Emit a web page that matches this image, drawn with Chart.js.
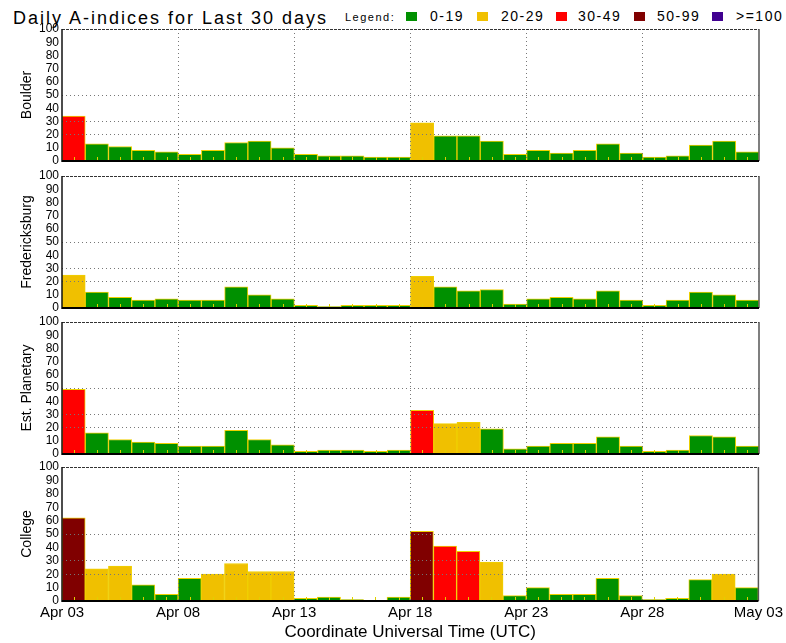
<!DOCTYPE html>
<html>
<head>
<meta charset="utf-8">
<script src="https://cdn.jsdelivr.net/npm/chart.js@4.4.0/dist/chart.umd.min.js"></script>
<style>
html,body{margin:0;padding:0;background:#fff;}
body{width:786px;height:643px;position:relative;overflow:hidden;font-family:"Liberation Sans",Arial,sans-serif;color:#000;}
.panel{position:absolute;left:0;width:786px;}
#title{position:absolute;left:13px;top:9px;font-size:18px;line-height:18px;letter-spacing:2px;white-space:nowrap;}
#legendHead{position:absolute;left:345px;top:12px;font-size:11px;line-height:11px;letter-spacing:1.5px;white-space:nowrap;}
.lbox{position:absolute;top:12px;width:11px;height:9px;}
.ltxt{position:absolute;top:9px;font-size:14px;line-height:14px;letter-spacing:1.5px;white-space:nowrap;}
</style>
</head>
<body>
<div id="title">Daily A-indices for Last 30 days</div>
<div id="legendHead">Legend:</div>
<div id="legendItems"></div>
<div class="panel" id="p0"><canvas id="c0"></canvas></div>
<div class="panel" id="p1"><canvas id="c1"></canvas></div>
<div class="panel" id="p2"><canvas id="c2"></canvas></div>
<div class="panel" id="p3"><canvas id="c3"></canvas></div>
<script>
// ---------- DATA ----------
const days = ['Apr 03','Apr 04','Apr 05','Apr 06','Apr 07','Apr 08','Apr 09','Apr 10','Apr 11','Apr 12',
              'Apr 13','Apr 14','Apr 15','Apr 16','Apr 17','Apr 18','Apr 19','Apr 20','Apr 21','Apr 22',
              'Apr 23','Apr 24','Apr 25','Apr 26','Apr 27','Apr 28','Apr 29','Apr 30','May 01','May 02'];
const xTickLabels = ['Apr 03','Apr 08','Apr 13','Apr 18','Apr 23','Apr 28','May 03'];
const stations = ['Boulder','Fredericksburg','Est. Planetary','College'];
const boulder        = [34,13,11,8,7,5,8,14,15,10,5,4,4,3,3,29,19,19,15,5,8,6,8,13,6,3,4,12,15,7];
const fredericksburg = [25,12,8,6,7,6,6,16,10,7,2,1,2,2,2,24,16,13,14,3,7,8,7,13,6,2,6,12,10,6];
const planetary      = [49,16,11,9,8,6,6,18,11,7,2,3,3,2,3,33,23,24,19,4,6,8,8,13,6,2,3,14,13,6];
const college        = [62,24,26,12,5,17,20,28,22,22,2,3,1,0,3,52,41,37,29,4,10,5,5,17,4,1,2,16,20,10];
const legendLabels = ['0-19','20-29','30-49','50-99','>=100'];
const legendThresholds = [0,20,30,50,100];
const legendColors = ['#009000','#f0c000','#ff0000','#800000','#400090'];
const yGridValues = [20,30,50];

// ---------- LEGEND ----------
const boxLefts = [406,477,556,634,712];
const txtLefts = [430,501,578,657,736];
const li = document.getElementById('legendItems');
legendLabels.forEach((t,i)=>{
  const b = document.createElement('div'); b.className='lbox';
  b.style.left = boxLefts[i]+'px'; b.style.background = legendColors[i]; li.appendChild(b);
  const s = document.createElement('div'); s.className='ltxt';
  s.style.left = txtLefts[i]+'px'; s.textContent = t; li.appendChild(s);
});

function aColor(v){
  let c = legendColors[0];
  legendThresholds.forEach((th,i)=>{ if (v>=th) c = legendColors[i]; });
  return c;
}

// ---------- FRAME / TICK PLUGIN ----------
const framePlugin = {
  id:'frame',
  afterDraw(chart){
    const {ctx, chartArea:a} = chart;
    const xs = chart.scales.x;
    const ln = (x1,y1,x2,y2)=>{ctx.beginPath();ctx.moveTo(x1,y1);ctx.lineTo(x2,y2);ctx.stroke();};
    ctx.save();
    // small day ticks
    ctx.strokeStyle='#e0d000'; ctx.lineWidth=1;
    days.forEach((d,i)=>{
      const x = Math.round(xs.getPixelForValue(i+0.5))+0.5;
      ln(x, a.bottom-1, x, a.bottom-4);
    });
    ctx.strokeStyle='#333'; ctx.lineWidth=1; ctx.setLineDash([3,1]);
    ln(a.left, a.top+0.5, a.right, a.top+0.5);
    ctx.setLineDash([]);
    ctx.strokeStyle='#555'; ctx.lineWidth=1.5;
    ln(a.right, a.top, a.right, a.bottom);
    ctx.strokeStyle='#111'; ctx.lineWidth=1.5;
    ln(a.left, a.top, a.left, a.bottom+1);
    ctx.strokeStyle='#000'; ctx.lineWidth=2;
    ln(a.left, a.bottom, a.right, a.bottom);
    ctx.restore();
  }
};

const series = [boulder, fredericksburg, planetary, college];
const plotTops = [29,176,322,467];

series.forEach((vals, k)=>{
  const last = (k === series.length-1);
  const divTop = plotTops[k]-10;
  const h = last ? 643-divTop : 152;
  const div = document.getElementById('p'+k);
  div.style.top = divTop+'px'; div.style.height = h+'px';
  const cv = document.getElementById('c'+k);
  cv.width = 786; cv.height = h;
  new Chart(cv, {
    type:'bar',
    data:{
      datasets:[{
        data: vals.map((v,i)=>({x:i+0.5, y:v})),
        backgroundColor: vals.map(aColor),
        borderColor:'#f0d000',
        borderWidth:1,
        barPercentage:1,
        categoryPercentage:1
      }]
    },
    options:{
      responsive:false, animation:false, devicePixelRatio:1,
      layout:{padding:{top:10,bottom:last?0:10,left:0,right:27}},
      plugins:{legend:{display:false},tooltip:{enabled:false}},
      scales:{
        x:{
          type:'linear', min:0, max:30, offset:false,
          grid:{offset:false, drawTicks:false, z:1,
                color:(c)=> (c.tick && c.tick.value>0 && c.tick.value<30) ? '#777' : 'rgba(0,0,0,0)'},
          border:{display:false, dash:[1,3]},
          ticks:{display:last, stepSize:5, autoSkip:false, padding:3, color:'#000',
                 font:{family:'"Liberation Sans", Arial, sans-serif', size:15},
                 callback:(v)=> xTickLabels[Math.round(v/5)]},
          title:{display:last, text:'Coordinate Universal Time (UTC)', color:'#000',
                 padding:{top:0,bottom:0},
                 font:{family:'"Liberation Sans", Arial, sans-serif', size:17}},
          afterFit:(s)=>{ s.height = last ? 42 : 0; }
        },
        y:{
          min:0, max:100,
          grid:{drawTicks:false, z:1,
                color:(c)=> (c.tick && yGridValues.includes(c.tick.value)) ? '#777' : 'rgba(0,0,0,0)'},
          border:{display:false, dash:[1,3]},
          ticks:{stepSize:10, autoSkip:false, padding:3, color:'#000',
                 font:{family:'"Liberation Sans", Arial, sans-serif', size:12, lineHeight:1}},
          title:{display:true, text:stations[k], color:'#000',
                 padding:{top:19,bottom:0},
                 font:{family:'"Liberation Sans", Arial, sans-serif', size:14, lineHeight:1.2}},
          afterFit:(s)=>{ s.width = 62; }
        }
      }
    },
    plugins:[framePlugin]
  });
});
</script>
</body>
</html>
